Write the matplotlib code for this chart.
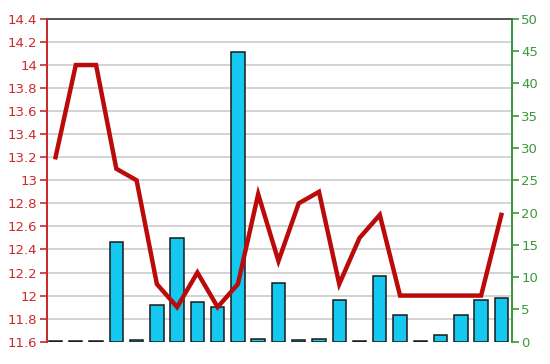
import matplotlib
matplotlib.use("Agg")
import matplotlib.pyplot as plt
import numpy as np

categories = list(range(1, 24))
bar_values = [0.12, 0.12, 0.12, 15.4, 0.3, 5.7, 16.1, 6.1, 5.4, 44.8, 0.4, 9.1,
              0.3, 0.4, 6.5, 0.1, 10.1, 4.2, 0.1, 1.0, 4.1, 6.4, 6.8]
line_values = [13.2, 14.0, 14.0, 13.1, 13.0, 12.1, 11.9, 12.2, 11.9, 12.1, 12.88, 12.3,
               12.8, 12.9, 12.1, 12.5, 12.7, 12.0, 12.0, 12.0, 12.0, 12.0, 12.7]
left_ticks = [11.6, 11.8, 12.0, 12.2, 12.4, 12.6, 12.8, 13.0, 13.2, 13.4, 13.6, 13.8, 14.0, 14.2, 14.4]
left_labels = ["11.6", "11.8", "12", "12.2", "12.4", "12.6", "12.8", "13", "13.2", "13.4",
               "13.6", "13.8", "14", "14.2", "14.4"]
right_ticks = [0, 5, 10, 15, 20, 25, 30, 35, 40, 45, 50]

RED = "#cc2a2a"
GREEN = "#3a9a3a"
LMIN, LMAX = 11.6, 14.4
RMIN, RMAX = 0, 50

fig = plt.figure(figsize=(5.5, 3.64), dpi=100)
ax_b = fig.add_axes([0.0855, 0.0613, 0.8445, 0.8867])
ax_l = ax_b.twinx()

x = np.arange(len(categories))

# gridlines following the left axis ticks, drawn on the bar axes (behind bars)
for t in left_ticks[1:-1]:
    yv = RMIN + (t - LMIN) / (LMAX - LMIN) * (RMAX - RMIN)
    ax_b.axhline(yv, color="#d0d0d0", lw=1.3, zorder=0)

ax_b.bar(x, bar_values, width=0.66, color="#14c8ef", edgecolor="#1a1a1a", linewidth=1.1, zorder=2)
ax_b.set_ylim(RMIN, RMAX)
ax_b.set_xlim(-0.42, 22.5)
ax_b.yaxis.tick_right()
ax_b.set_yticks(right_ticks)
ax_b.set_yticklabels([str(v) for v in right_ticks])
ax_b.tick_params(axis="y", colors=GREEN, labelcolor=GREEN, length=5, width=1.2, labelsize=9.5, pad=2)
ax_b.set_xticks([])

ax_l.plot(x, line_values, color="#bb0a0a", lw=3.2, solid_joinstyle="miter", zorder=3)
ax_l.set_ylim(LMIN, LMAX)
ax_l.yaxis.tick_left()
ax_l.set_yticks(left_ticks)
ax_l.set_yticklabels(left_labels)
ax_l.tick_params(axis="y", colors=RED, labelcolor=RED, length=5, width=1.2, labelsize=9.5, pad=2)

for a in (ax_b, ax_l):
    a.spines["left"].set_color(RED)
    a.spines["left"].set_linewidth(1.3)
    a.spines["right"].set_color(GREEN)
    a.spines["right"].set_linewidth(1.3)
    a.spines["top"].set_color("#555555")
    a.spines["top"].set_linewidth(1.2)
    a.spines["bottom"].set_visible(False)

fig.savefig("out.png", dpi=100)
